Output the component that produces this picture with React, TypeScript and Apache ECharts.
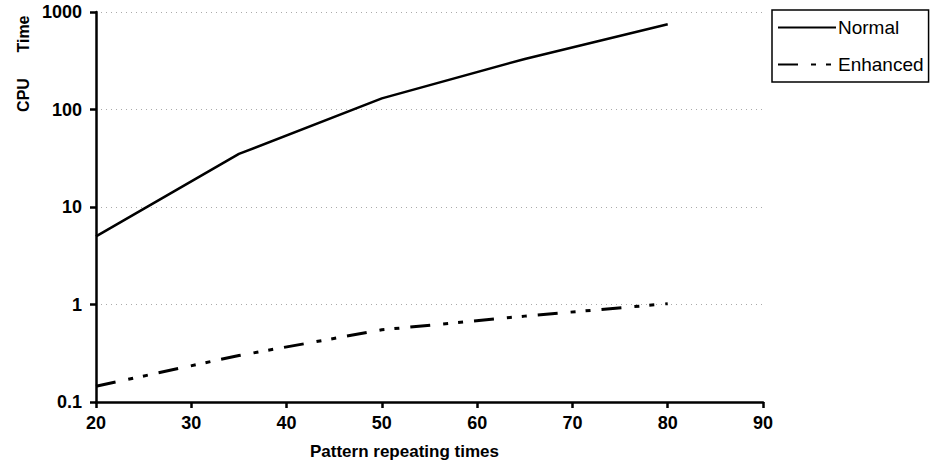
import React, { useEffect, useRef } from "react";
import * as echarts from "echarts";

const repeatTimes = [20, 35, 50, 65, 80];
const normalTime = [5, 35, 130, 330, 750];
const enhancedTime = [0.145, 0.3, 0.55, 0.76, 1.02];
const seriesNames = ["Normal", "Enhanced"];
const xTitle = "Pattern repeating times";
const yTitleParts = ["CPU", "Time"];

const FONT = "'Liberation Sans', Arial, Helvetica, sans-serif";

export default function App() {
  const ref = useRef<HTMLDivElement>(null);
  useEffect(() => {
    document.body.style.margin = "0";
    if (!ref.current) return;
    const chart = echarts.init(ref.current, undefined, { renderer: "svg" });
    chart.setOption({
      animation: false,
      backgroundColor: "#ffffff",
      textStyle: { fontFamily: FONT },
      grid: { left: 96, right: 167, top: 12, bottom: 64 },
      xAxis: {
        type: "value",
        min: 20,
        max: 90,
        interval: 10,
        axisLine: { lineStyle: { color: "#000", width: 2.5 } },
        axisTick: { show: true, inside: false, length: 6, lineStyle: { color: "#000", width: 2.5 } },
        axisLabel: { color: "#000", fontSize: 18, fontWeight: "bold", margin: 12, fontFamily: FONT },
        splitLine: { show: false },
      },
      yAxis: {
        type: "log",
        logBase: 10,
        min: 0.1,
        max: 1000,
        axisLine: { show: true, lineStyle: { color: "#000", width: 2.5 } },
        axisTick: { show: true, inside: false, length: 6, lineStyle: { color: "#000", width: 2.5 } },
        axisLabel: {
          color: "#000",
          fontSize: 18,
          fontWeight: "bold",
          margin: 14,
          fontFamily: FONT,
          formatter: (v: number) => (v < 1 ? String(Math.round(v * 10) / 10) : String(Math.round(v))),
        },
        splitLine: { show: true, lineStyle: { color: "#aaaaaa", width: 1, type: [1, 4] } },
        minorTick: { show: false },
      },
      legend: {
        left: 772,
        top: 10,
        orient: "vertical",
        padding: [8, 5, 8, 5],
        itemGap: 18,
        itemWidth: 58,
        itemHeight: 14,
        borderColor: "#000",
        borderWidth: 1.5,
        itemStyle: { opacity: 0 },
        textStyle: { color: "#000", fontSize: 19, fontFamily: FONT, padding: [0, 0, 0, -3] },
        data: seriesNames,
      },
      series: [
        {
          name: seriesNames[0],
          type: "line",
          symbol: "none",
          data: repeatTimes.map((x, i) => [x, normalTime[i]]),
          lineStyle: { color: "#000", width: 2.5 },
          itemStyle: { color: "#000" },
        },
        {
          name: seriesNames[1],
          type: "line",
          symbol: "none",
          data: repeatTimes.map((x, i) => [x, enhancedTime[i]]),
          lineStyle: { color: "#000", width: 3, type: [20, 13, 5, 10, 5, 11] },
          itemStyle: { color: "#000" },
        },
      ],
      graphic: [
        {
          type: "text",
          left: 310,
          top: 443,
          style: { text: xTitle, fill: "#000", fontSize: 17, fontWeight: "bold", fontFamily: FONT },
        },
        {
          type: "text",
          x: 23,
          y: 95,
          rotation: Math.PI / 2,
          style: {
            text: yTitleParts[0],
            fill: "#000",
            fontSize: 16,
            fontWeight: "bold",
            fontFamily: FONT,
            align: "center",
            verticalAlign: "middle",
          },
        },
        {
          type: "text",
          x: 23,
          y: 34,
          rotation: Math.PI / 2,
          style: {
            text: yTitleParts[1],
            fill: "#000",
            fontSize: 16,
            fontWeight: "bold",
            fontFamily: FONT,
            align: "center",
            verticalAlign: "middle",
          },
        },
      ],
    });
    return () => chart.dispose();
  }, []);
  return <div ref={ref} style={{ width: 930, height: 466 }} />;
}
